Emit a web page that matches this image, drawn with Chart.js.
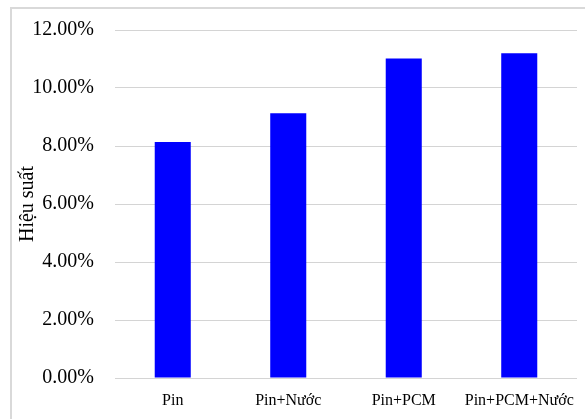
<!DOCTYPE html>
<html>
<head>
<meta charset="utf-8">
<script src="https://cdn.jsdelivr.net/npm/chart.js@4"></script>
<style>
  html, body { margin: 0; padding: 0; background: #ffffff; overflow: hidden; }
  #frame { position: absolute; left: 10px; top: 7px; width: 700px; height: 600px; border: 2px solid #d9d9d9; box-sizing: border-box; }
  #wrap { position: absolute; left: 0; top: 0; width: 585px; height: 419px; }
</style>
</head>
<body>
<div id="frame"></div>
<div id="wrap"><canvas id="c" width="585" height="419"></canvas></div>
<script>
const categories = ['Pin', 'Pin+Nước', 'Pin+PCM', 'Pin+PCM+Nước'];
const efficiency = [8.14, 9.13, 11.02, 11.20]; // %
const yTickMax = 12;
const yTickStep = 2;
const yTitle = 'Hiệu suất';

new Chart(document.getElementById('c'), {
  type: 'bar',
  data: {
    labels: categories,
    datasets: [{
      data: efficiency,
      backgroundColor: '#0000ff',
      borderWidth: 0,
      categoryPercentage: 1.0,
      barPercentage: 0.312
    }]
  },
  options: {
    responsive: false,
    animation: false,
    devicePixelRatio: 1,
    layout: { padding: { top: 30, right: 8, bottom: 0, left: 0 } },
    plugins: { legend: { display: false }, tooltip: { enabled: false } },
    scales: {
      x: {
        grid: { display: false },
        border: { display: false },
        ticks: {
          color: '#000000',
          font: { family: 'Liberation Serif', size: 16 },
          padding: 5,
          maxRotation: 0
        },
        afterFit: (s) => { s.height = 41; }
      },
      y: {
        min: 0,
        max: yTickMax,
        grid: { color: '#d4d4d4', lineWidth: 1, drawTicks: false },
        border: { display: false },
        ticks: {
          stepSize: yTickStep,
          color: '#000000',
          font: { family: 'Liberation Serif', size: 20 },
          padding: 21,
          callback: (v) => Number(v).toFixed(2) + '%'
        },
        title: {
          display: true,
          text: yTitle,
          color: '#000000',
          font: { family: 'Liberation Serif', size: 20 },
          padding: { top: 16, bottom: 0 }
        },
        afterFit: (s) => { s.width = 115; s.paddingTop = 0; s.paddingBottom = 0; }
      }
    }
  }
});
</script>
</body>
</html>
